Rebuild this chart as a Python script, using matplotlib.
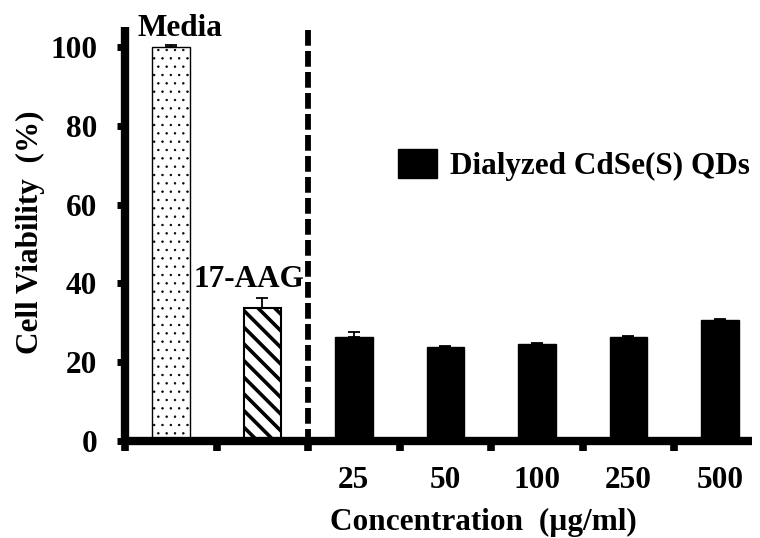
import matplotlib
matplotlib.use("Agg")
import matplotlib.pyplot as plt
import numpy as np

# ---- data ----
groups = ["Media", "17-AAG"]
group_values = [100.0, 33.8]
group_errors = [0.4, 2.5]
concentrations = ["25", "50", "100", "250", "500"]
qd_values = [26.4, 23.9, 24.6, 26.4, 30.7]
qd_errors = [1.3, 0.3, 0.3, 0.3, 0.3]
y_ticks = [0, 20, 40, 60, 80, 100]
legend_label = "Dialyzed CdSe(S) QDs"

FS = 22.5
plt.rcParams["font.family"] = ["Liberation Serif", "DejaVu Serif"]
plt.rcParams["font.weight"] = "bold"

fig = plt.figure(figsize=(7.6, 5.38), dpi=100)
ax = fig.add_axes([125 / 760, 1 - 441 / 538, 627 / 760, 413.7 / 538])

bw = 0.41
gx = np.arange(len(groups))
qx = np.arange(len(groups), len(groups) + len(concentrations))

err_kw = dict(ecolor="black", elinewidth=1.3, capthick=1.3)

with plt.rc_context({"hatch.linewidth": 0.5}):
    b0 = ax.bar(gx[0], group_values[0], width=bw, color="white", edgecolor="black",
                linewidth=1.0, hatch="..", zorder=2,
                yerr=[[0], [group_errors[0]]], capsize=4.5, error_kw=err_kw)
with plt.rc_context({"hatch.linewidth": 2.6}):
    b1 = ax.bar(gx[1], group_values[1], width=bw, color="white", edgecolor="black",
                linewidth=1.5, hatch="\\\\", zorder=2,
                yerr=[[0], [group_errors[1]]], capsize=4.0, error_kw=err_kw)

bq = ax.bar(qx, qd_values, width=bw, color="black", edgecolor="black", linewidth=1,
            zorder=2, yerr=[np.zeros(len(qd_errors)), qd_errors], capsize=4.5,
            error_kw=err_kw, label=legend_label)

# separator
ax.plot([1.5, 1.5], [104.3, 0], color="black", linewidth=4.2,
        dashes=(2.7, 0.9), zorder=3, clip_on=False)

# group labels
ax.text(0.10, 102.8, groups[0], ha="center", va="baseline", fontsize=FS,
        fontweight="bold", clip_on=False)
ax.text(0.855, 39.1, groups[1], ha="center", va="baseline", fontsize=FS,
        fontweight="bold")

ax.set_xlim(-0.5, 6.35)
ax.set_ylim(0, 105)

for s in ["top", "right"]:
    ax.spines[s].set_visible(False)
for s in ["left", "bottom"]:
    ax.spines[s].set_linewidth(6)
    ax.spines[s].set_capstyle("butt")

ax.set_yticks(y_ticks)
ax.set_yticklabels([str(v) for v in y_ticks], fontsize=FS, fontweight="bold")
ax.tick_params(axis="y", direction="out", length=6, width=5, pad=14)

ax.set_xticks(qx)
ax.set_xticklabels(concentrations, fontsize=FS, fontweight="bold")
ax.set_xticks(np.arange(-0.5, 6.0, 1.0), minor=True)
ax.tick_params(axis="x", which="major", length=0, pad=18)
ax.tick_params(axis="x", which="minor", direction="out", length=7, width=5.5)

ax.set_ylabel("Cell Viability  (%)", fontsize=FS, fontweight="bold")
ax.yaxis.set_label_coords(-0.127, 0.505)
ax.set_xlabel("Concentration  (\u00b5g/ml)", fontsize=FS, fontweight="bold")
ax.xaxis.set_label_coords(0.571, -0.161)

leg = ax.legend(handles=[bq], labels=[legend_label], loc="center left",
                bbox_to_anchor=(398 / 760, 1 - 165 / 538),
                bbox_transform=fig.transFigure, frameon=False,
                prop={"weight": "bold", "size": FS}, handlelength=1.25,
                handleheight=1.05, handletextpad=0.42, borderpad=0,
                borderaxespad=0)

fig.savefig("out.png", dpi=100)
